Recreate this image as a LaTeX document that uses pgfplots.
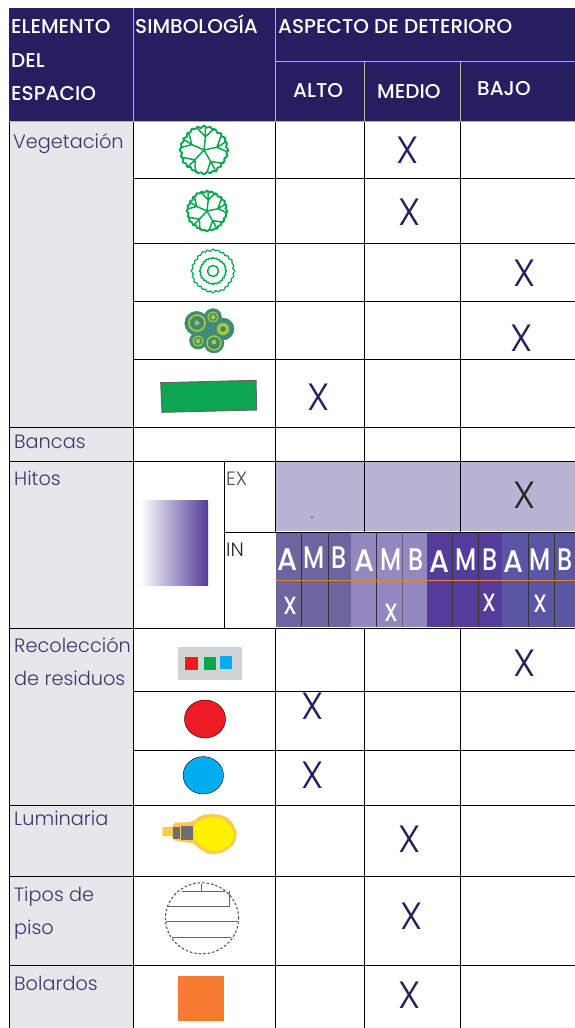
\documentclass[border=0pt]{standalone}
\usepackage{pgfplots}
\usepackage{pgfplotstable}
\usepackage{graphicx}
\usepackage{fontspec}
\pgfplotsset{compat=1.18}
\setmainfont{Poppins}
\newfontfamily\lt{Poppins Light}
\newfontfamily\md{Poppins Medium}
\definecolor{navy}{HTML}{261F5F}
\definecolor{grid}{HTML}{2E2668}
\definecolor{leaf}{HTML}{0BA650}
\definecolor{teal2}{HTML}{3F8A78}
\definecolor{lime2}{HTML}{A6C93A}
\definecolor{band}{HTML}{B9B4D4}
\definecolor{pa}{HTML}{6B65A0}
\definecolor{pb}{HTML}{9389BF}
\definecolor{pc}{HTML}{533C9A}
\definecolor{pd}{HTML}{5A56A3}
\definecolor{txt}{HTML}{3D3570}
\definecolor{sidegray}{HTML}{E6E7E8}
\definecolor{boxgray}{HTML}{D1D3D4}
\definecolor{rd}{HTML}{ED1C24}
\definecolor{bl}{HTML}{00AEEF}
\definecolor{og}{HTML}{F47B30}
\definecolor{bulbo}{HTML}{FDC94F}
\definecolor{bulby}{HTML}{FFF200}
\definecolor{gy}{HTML}{6D6E71}
\pgfplotstableread{
x y
1 0
.912 .121
.947 .254
.832 .345
.831 .48
.698 .536
.686 .686
.554 .722
.5 .866
.356 .859
.254 .947
.118 .892
0 1
-.121 .912
-.254 .947
-.345 .832
-.48 .831
-.536 .698
-.686 .686
-.722 .554
-.866 .5
-.859 .356
-.947 .254
-.892 .118
-1 0
-.912 -.121
-.947 -.254
-.832 -.345
-.831 -.48
-.698 -.536
-.686 -.686
-.554 -.722
-.5 -.866
-.356 -.859
-.254 -.947
-.118 -.892
0 -1
.121 -.912
.254 -.947
.345 -.832
.48 -.831
.536 -.698
.686 -.686
.722 -.554
.866 -.5
.859 -.356
.947 -.254
.892 -.118
1 0
}\outline
\pgfplotstableread{
x y
0 0
0.27 0.47
0.12 0.92
0.27 0.47
0.45 0.80
0.27 0.47
0.80 0.55
0.27 0.47
0 0
-0.37 0.40
-0.35 0.90
-0.37 0.40
-0.65 0.68
-0.37 0.40
-0.90 0.30
-0.37 0.40
0 0
-0.50 -0.22
-0.95 -0.10
-0.50 -0.22
-0.85 -0.45
-0.50 -0.22
-0.62 -0.70
-0.50 -0.22
0 0
0.06 -0.54
-0.30 -0.92
0.06 -0.54
0.06 -0.95
0.06 -0.54
0.42 -0.88
0.06 -0.54
0 0
0.53 -0.11
0.72 -0.65
0.53 -0.11
0.92 -0.35
0.53 -0.11
0.97 0.08
0.53 -0.11
0 0
}\veins
\newcommand\ring[4]{\addplot[#4,line join=round] table[x expr=\thisrow{x}*#3+#1,y expr=\thisrow{y}*#3+#2]{\outline};}
\newcommand\tree[3]{\ring{#1}{#2}{#3}{leaf,line width=1.9pt}
 \addplot[leaf,line width=1.5pt,line join=round] table[x expr=\thisrow{x}*#3+#1,y expr=\thisrow{y}*#3+#2]{\veins};}
\newcommand\rect[5]{\addplot[fill=#5,draw=none] coordinates {(#1,#2) (#3,#2) (#3,#4) (#1,#4)} --cycle;}
\newcommand\hl[4][grid]{\addplot[#1,line width=1pt] coordinates {(#2,#4) (#3,#4)};}
\newcommand\vl[4][grid]{\addplot[#1,line width=1pt] coordinates {(#4,#2) (#4,#3)};}
\newcommand\lab[4][txt]{\node[anchor=base west,inner sep=0,text=#1,font=\lt\fontsize{19.3}{19.3}\selectfont] at (axis cs:#2,#3) {#4};}
\newcommand\head[3]{\node[anchor=base west,inner sep=0,text=white,font=\md\fontsize{20}{20}\selectfont] at (axis cs:#1,#2) {#3};}
\newcommand\ex[3][navy]{\node[inner sep=0,text=#1,font=\lt\fontsize{38}{38}\selectfont] at (axis cs:#2+1,#3) {X};}
\newcommand\wt[4][1]{\node[inner sep=0,text=white,font=\md\fontsize{24}{24}\selectfont] at (axis cs:#2,#3) {\scalebox{#1}[1.3]{#4}};}
\newcommand\wx[2]{\node[inner sep=0,text=white,font=\md\fontsize{20}{20}\selectfont] at (axis cs:#1,#2) {\scalebox{1.05}[1.25]{X}};}
\begin{document}
\begin{tikzpicture}
\begin{axis}[scale only axis,width=575pt,height=1028pt,xmin=0,xmax=575,ymin=0,ymax=1028,y dir=reverse,hide axis,clip=true]
\rect{0}{0}{575}{1028}{white}
% backgrounds
\rect{9}{8}{575}{121}{navy}
\rect{10}{122}{133}{1028}{sidegray}
\rect{276}{462}{575}{531}{band}
\rect{275.5}{533}{350.7}{627}{pa}
\rect{350.7}{533}{426.7}{627}{pb}
\rect{426.7}{533}{502}{627}{pc}
\rect{502}{533}{575}{627}{pd}
% header lines
\vl[black!30]{8}{121}{133}
\vl[black!30]{8}{121}{275}
\vl[black!30]{61}{121}{364}
\vl[black!30]{61}{121}{460}
\hl[black!30]{275}{575}{61}
\hl[black!30]{9}{575}{121}
% grid
\vl{122}{1028}{9}
\vl{122}{1028}{133}
\vl{122}{532}{275.5}
\vl{628}{1028}{275.5}
\vl{122}{532}{364}
\vl{628}{1028}{364}
\vl{122}{532}{460}
\vl{628}{1028}{460}
\vl{461}{628}{224}
\hl{133}{575}{178}
\hl{133}{575}{243}
\hl{133}{575}{301}
\hl{133}{575}{359}
\hl{9}{575}{427}
\hl{9}{575}{461}
\hl{224}{575}{532}
\hl{9}{575}{628}
\hl{133}{575}{691}
\hl{133}{575}{750}
\hl{9}{575}{805}
\hl{9}{575}{876}
\hl{9}{575}{965}
% inner columns
\vl[black!80]{533}{627}{301.7}
\vl[black!80]{533}{627}{328}
\vl[black!80]{533}{627}{376.7}
\vl[black!60]{533}{627}{402}
\vl[black!80]{533}{627}{452.7}
\vl[black!80]{533}{627}{478}
\vl[black!80]{533}{627}{528.7}
\vl[black!80]{533}{627}{554}
\addplot[og,line width=1.2pt] coordinates {(276,580.7) (575,580.7)};
\addplot[only marks,mark=*,mark size=.6pt,mark options={pd}] coordinates {(312,517)};
% gradient box
\addplot[draw=none,left color=white,right color=pc] coordinates {(140,500) (208,500) (208,585) (140,585)} --cycle;
% trees
\tree{204}{150}{24.5}
\tree{207}{211}{20.5}
\ring{213}{271}{22}{leaf,line width=1.2pt}
\ring{213}{271}{13.5}{leaf,line width=1.4pt}
\addplot[only marks,mark=o,mark size=5.5pt,mark options={leaf,line width=1.5pt}] coordinates {(213,271)};
% blob tree
\addplot[only marks,mark=*,mark size=12pt,mark options={teal2,fill=teal2}] coordinates {(196.7,323.3)};
\addplot[only marks,mark=*,mark size=8.5pt,mark options={teal2,fill=teal2}] coordinates {(213,317) (198,340.7)};
\addplot[only marks,mark=*,mark size=11pt,mark options={teal2,fill=teal2}] coordinates {(223,329)};
\addplot[only marks,mark=*,mark size=10pt,mark options={teal2,fill=teal2}] coordinates {(214,343)};
\addplot[only marks,mark=*,mark size=8pt,mark options={teal2,fill=teal2}] coordinates {(207,332)};
\addplot[only marks,mark=o,mark size=8pt,mark options={lime2,line width=1.8pt}] coordinates {(197,323)};
\addplot[only marks,mark=o,mark size=5pt,mark options={lime2,line width=1.2pt}] coordinates {(213,317) (198,341)};
\addplot[only marks,mark=o,mark size=7pt,mark options={lime2,line width=1.5pt}] coordinates {(214,343)};
\addplot[only marks,mark=*,mark size=6pt,mark options={lime2,fill=lime2}] coordinates {(223,329)};
\addplot[only marks,mark=*,mark size=2.2pt,mark options={lime2,fill=lime2}] coordinates {(197,323) (213,317) (198,341) (214,342)};
\addplot[only marks,mark=*,mark size=2.5pt,mark options={teal2,fill=teal2}] coordinates {(223,329)};
\addplot[fill=leaf,draw=black!60,line width=1pt] coordinates {(160.7,382.7) (256,380.3) (256.7,410) (162,412.3)} --cycle;
% recycling
\rect{177.7}{647.3}{241.7}{680}{boxgray}
\rect{185.3}{657.3}{197.7}{670}{rd}
\rect{203.7}{657.3}{215.7}{670}{leaf}
\rect{220}{656.3}{232}{669.3}{bl}
\addplot[only marks,mark=*,mark size=19pt,mark options={xscale=1.08,draw=none,fill=rd}] coordinates {(205,719)};
\addplot[only marks,mark=*,mark size=18.7pt,mark options={xscale=1.08,draw=none,fill=bl}] coordinates {(203.3,775.3)};
% bulb
\addplot[fill=bulbo,draw=none] coordinates {(162.3,827.3) (171.7,826.7) (175,822.7) (190,822) (195,820) (200,816) (206,814.5) (213.3,814) (221,815) (228.3,818.3) (233,824) (236.7,831.7) (236,839) (233.3,845) (227,850) (220,853.3) (213,854) (206.7,853.3) (200,849) (193.3,843.3) (175,840.7) (171.7,836) (162.3,836)} --cycle;
\addplot[fill=bulby,draw=none] coordinates {(193.3,826.7) (197,823) (201.7,820) (207,818) (213.3,817.3) (220,818.5) (226.7,821.7) (231,827) (234,833.3) (233,840) (230,845) (224,849) (218.3,850.7) (213,851) (208.3,850) (201,845.5) (195,840)} --cycle;
\rect{172.7}{826.7}{180}{839.3}{gy}
\rect{181}{825.7}{193.3}{840}{gy}
% floor
\addplot[only marks,mark=o,mark size=35.5pt,mark options={xscale=1.03,dash pattern=on 2.5pt off 2pt,black!70,line width=1pt}] coordinates {(202,918.3)};
\hl[black!60]{181.7}{225}{891}
\hl[black!60]{167.5}{229}{906.7}
\hl[black!60]{165.7}{238}{921.7}
\hl[black!60]{172}{231}{937.3}
\vl[black!60]{883.5}{891}{201.7}
\vl[black!60]{891}{906.7}{229}
\rect{178}{976}{224}{1021}{og}
% header text
\head{11}{33}{ELEMENTO}
\head{11}{67}{DEL}
\head{11}{100}{ESPACIO}
\head{135}{33}{SIMBOLOGÍA}
\head{278}{33}{ASPECTO DE DETERIORO}
\head{293}{97}{ALTO}
\head{377}{98}{MEDIO}
\head{477}{95}{BAJO}
% labels
\lab{13}{148}{Vegetación}
\lab{14}{448}{Bancas}
\lab{14}{485}{Hitos}
\lab{14}{652}{Recolección}
\lab{14}{685}{de residuos}
\lab{14}{825}{Luminaria}
\lab{14}{901}{Tipos de}
\lab{14}{934}{piso}
\lab{14}{990}{Bolardos}
\lab[black!70]{226}{485}{EX}
\lab[black!85]{226}{556}{IN}
% X
\ex{407}{150}\ex{409}{212}\ex{524}{273}\ex{521}{338}\ex{318}{397}
\ex[black!85]{524}{495}
\ex{312}{706}\ex{312}{775}\ex{524}{663}\ex{409}{839}\ex{411}{916}\ex{409}{995}
% inner letters
\wt[1.2]{288}{560}{A}\wt{314}{558}{M}\wt{339}{558}{B}
\wt[1.2]{365}{561}{A}\wt{391}{560}{M}\wt{416}{560}{B}
\wt[1.2]{440}{562}{A}\wt{466}{560}{M}\wt{490}{560}{B}
\wt[1.2]{514}{562}{A}\wt{540}{560}{M}\wt{565}{560}{B}
\wx{290}{606}\wx{391}{613}\wx{489}{603}\wx{540}{604}
\end{axis}
\end{tikzpicture}
\end{document}
